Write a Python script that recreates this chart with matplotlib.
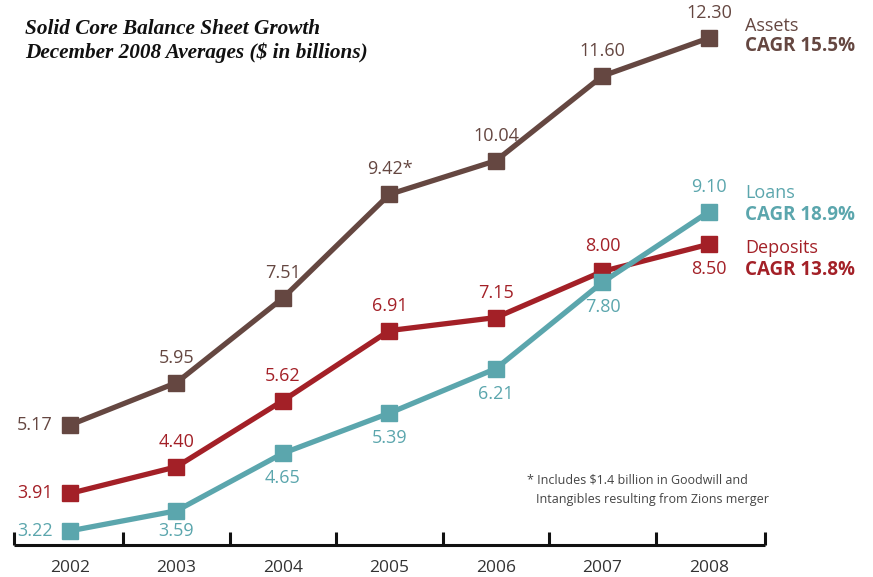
import matplotlib
matplotlib.use("Agg")
import matplotlib.pyplot as plt

years = ["2002", "2003", "2004", "2005", "2006", "2007", "2008"]
assets = [5.17, 5.95, 7.51, 9.42, 10.04, 11.60, 12.30]
deposits = [3.91, 4.40, 5.62, 6.91, 7.15, 8.00, 8.50]
loans = [3.22, 3.59, 4.65, 5.39, 6.21, 7.80, 9.10]

assets_lbl = ["5.17", "5.95", "7.51", "9.42*", "10.04", "11.60", "12.30"]
deposits_lbl = ["3.91", "4.40", "5.62", "6.91", "7.15", "8.00", "8.50"]
loans_lbl = ["3.22", "3.59", "4.65", "5.39", "6.21", "7.80", "9.10"]

# label placement: 'l' left, 'a' above, 'b' below
assets_pos = ["l", "a", "a", "a", "a", "a", "a"]
deposits_pos = ["l", "a", "a", "a", "a", "a", "b"]
loans_pos = ["l", "b", "b", "b", "b", "b", "a"]

C_ASSETS = "#654741"
C_DEP = "#a32027"
C_LOAN = "#5ba6ad"
C_TEXT = "#333333"

FONT = "Open Sans"

fig = plt.figure(figsize=(8.73, 5.77), dpi=100)
ax = fig.add_axes([0, 0, 1, 1])
ax.set_xlim(-0.657, 7.54)
ax.set_ylim(2.37, 13.0)
ax.axis("off")

x = list(range(len(years)))

for vals, col, labels, pos in [
    (assets, C_ASSETS, assets_lbl, assets_pos),
    (deposits, C_DEP, deposits_lbl, deposits_pos),
    (loans, C_LOAN, loans_lbl, loans_pos),
]:
    ax.plot(x, vals, color=col, lw=3.8, marker="s", markersize=12, zorder=3,
            solid_joinstyle="miter")
    for i, (xi, v, t, p) in enumerate(zip(x, vals, labels, pos)):
        if p == "l":
            off, ha, va = (-17, 0), "right", "center"
        elif p == "a":
            off, ha, va = (0, 25), "center", "center"
        else:
            off, ha, va = (0, -25), "center", "center"
        if vals is loans and i == 1:
            off = (0, -20)
        ax.annotate(t, (xi, v), xytext=off, textcoords="offset pixels",
                    ha=ha, va=va, fontsize=13, color=col, family=FONT)

# x axis line with ticks between categories
ybase = 2.96
tick_h = 0.24
ax.plot([-0.53, 6.53], [ybase, ybase], color="#111111", lw=2.2, solid_capstyle="butt", zorder=2)
for i in range(len(years) + 1):
    tx = i - 0.5 if 0 < i < len(years) else (-0.53 if i == 0 else 6.53)
    ax.plot([tx, tx], [ybase, ybase + tick_h], color="#111111", lw=2.2, solid_capstyle="butt")
for xi, yr in zip(x, years):
    ax.text(xi, 2.54, yr, ha="center", va="center", fontsize=12.5, color=C_TEXT, family=FONT)

# title
fig.text(25 / 873, 1 - 29 / 577, "Solid Core Balance Sheet Growth", ha="left", va="center",
         fontsize=15.3, style="italic", weight="bold", family="Liberation Serif", color="#111111")
fig.text(25 / 873, 1 - 53 / 577, "December 2008 Averages ($ in billions)", ha="left", va="center",
         fontsize=15.3, style="italic", weight="bold", family="Liberation Serif", color="#111111")

# series names
def legend(y1, y2, name, cagr, col):
    fig.text(745 / 873, 1 - y1 / 577, name, ha="left", va="center", fontsize=13, color=col, family=FONT)
    fig.text(745 / 873, 1 - y2 / 577, cagr, ha="left", va="center", fontsize=13.5, color=col,
             family=FONT, weight="bold")

legend(26, 46, "Assets", "CAGR 15.5%", C_ASSETS)
legend(193, 215, "Loans", "CAGR 18.9%", C_LOAN)
legend(248, 270, "Deposits", "CAGR 13.8%", C_DEP)

# footnote
fig.text(527 / 873, 1 - 480 / 577, "* Includes $1.4 billion in Goodwill and", ha="left", va="center",
         fontsize=9, color="#444444", family=FONT)
fig.text(536 / 873, 1 - 499 / 577, "Intangibles resulting from Zions merger", ha="left", va="center",
         fontsize=9, color="#444444", family=FONT)

fig.savefig("out.png", dpi=100)
